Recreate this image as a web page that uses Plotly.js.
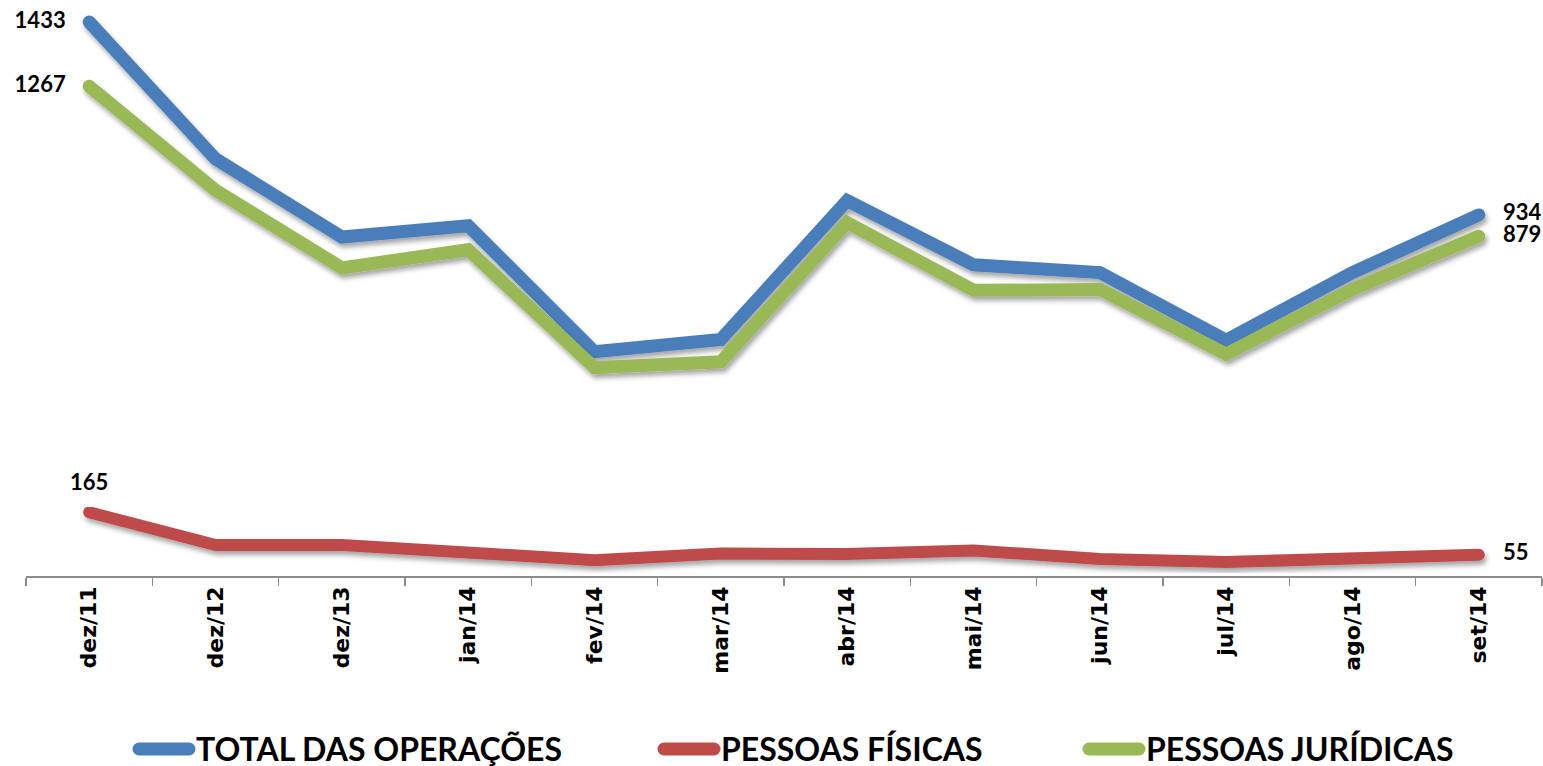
<!DOCTYPE html>
<html>
<head>
<meta charset="utf-8">
<script src="https://cdn.plot.ly/plotly-3.0.1.min.js"></script>
<style>
  html, body { margin: 0; padding: 0; background: #ffffff; }
  #chart { width: 1543px; height: 766px; }
</style>
</head>
<body>
<div id="chart"></div>
<script>
// ---- data ----
const categories = ['dez/11','dez/12','dez/13','jan/14','fev/14','mar/14','abr/14','mai/14','jun/14','jul/14','ago/14','set/14'];
const seriesNames = ['TOTAL DAS OPERAÇÕES', 'PESSOAS FÍSICAS', 'PESSOAS JURÍDICAS'];
const totalOperacoes   = [1433, 1079, 877, 906, 580, 612, 971, 805, 785, 610, 785, 934];
const pessoasFisicas   = [165, 80, 80, 62, 41, 58, 57, 66, 44, 36, 44, 55];
const pessoasJuridicas = [1267, 998, 797, 844, 539, 554, 914, 739, 741, 574, 741, 879];

// ---- styling ----
const colors = ['#4A7EBB', '#BE4B48', '#98B954'];
const W = 1543, H = 766;
const plotLeft = 26, plotRight = 1542, plotTop = 0, plotBottom = 576;
const xp = X => (X - plotLeft) / (plotRight - plotLeft);
const yp = Y => (plotBottom - Y) / (plotBottom - plotTop);

const last = categories.length - 1;
function endLabels(vals) {
  return vals.map((v, i) => (i === 0 || i === last) ? String(v) : '');
}
function sizes(vals, first, end) {
  return vals.map((v, i) => i === 0 ? first : (i === last ? end : 0));
}
const labelFont = { family: 'Lato, "Liberation Sans", sans-serif', size: 22, weight: 'bold', color: '#000000' };

const traces = [
  {
    x: categories, y: totalOperacoes, name: seriesNames[0], type: 'scatter', mode: 'lines+markers+text',
    line: { color: colors[0], width: 13 },
    marker: { size: sizes(totalOperacoes, 36, 37), opacity: 0, color: colors[0] },
    text: endLabels(totalOperacoes),
    textposition: totalOperacoes.map((v, i) => i === 0 ? 'middle left' : 'middle right'),
    textfont: labelFont, cliponaxis: false, hoverinfo: 'x+y+name'
  },
  {
    x: categories, y: pessoasFisicas, name: seriesNames[1], type: 'scatter', mode: 'lines+markers+text',
    line: { color: colors[1], width: 12 },
    marker: { size: sizes(pessoasFisicas, 25, 37), opacity: 0, color: colors[1] },
    text: endLabels(pessoasFisicas),
    textposition: pessoasFisicas.map((v, i) => i === 0 ? 'top center' : 'middle right'),
    textfont: labelFont, cliponaxis: false, hoverinfo: 'x+y+name'
  },
  {
    x: categories, y: pessoasJuridicas, name: seriesNames[2], type: 'scatter', mode: 'lines+markers+text',
    line: { color: colors[2], width: 13 },
    marker: { size: sizes(pessoasJuridicas, 36, 37), opacity: 0, color: colors[2] },
    text: endLabels(pessoasJuridicas),
    textposition: pessoasJuridicas.map((v, i) => i === 0 ? 'middle left' : 'middle right'),
    textfont: labelFont, cliponaxis: false, hoverinfo: 'x+y+name'
  }
];

// manual legend (line symbol + text)
const legendY = 748;
const legendItems = [
  { lineX0: 139, lineX1: 189, textX: 195 },
  { lineX0: 664, lineX1: 714, textX: 720 },
  { lineX0: 1089, lineX1: 1139, textX: 1145 }
];
const shapes = legendItems.map((it, i) => ({
  type: 'line', xref: 'paper', yref: 'paper',
  x0: xp(it.lineX0), x1: xp(it.lineX1), y0: yp(legendY + 1), y1: yp(legendY + 1),
  line: { color: colors[i], width: 13 }
}));
const annotations = legendItems.map((it, i) => ({
  xref: 'paper', yref: 'paper', x: xp(it.textX), y: yp(legendY),
  xanchor: 'left', yanchor: 'middle', showarrow: false, borderpad: 0,
  text: seriesNames[i],
  font: { family: 'Lato, "Liberation Sans", sans-serif', size: 32, weight: 'bold', color: '#000000' }
}));

const layout = {
  width: W, height: H,
  margin: { l: plotLeft, r: W - plotRight, t: plotTop, b: H - plotBottom, pad: 0 },
  paper_bgcolor: '#ffffff', plot_bgcolor: '#ffffff',
  showlegend: false,
  xaxis: {
    type: 'category', range: [-0.5, categories.length - 0.5],
    tickson: 'boundaries', ticks: 'outside', ticklen: 8, tickwidth: 1.3, tickcolor: '#8C8C8C',
    showline: true, linecolor: '#8C8C8C', linewidth: 1.6,
    showgrid: false, zeroline: false,
    tickangle: -90,
    tickfont: { family: '"DejaVu Sans", sans-serif', size: 22, weight: 'bold', color: '#000000' },
    fixedrange: true
  },
  yaxis: {
    range: [0, 1490], visible: false, showgrid: false, zeroline: false, fixedrange: true
  },
  shapes: shapes,
  annotations: annotations
};

Plotly.newPlot('chart', traces, layout, { displayModeBar: false, staticPlot: true }).then(gd => {
  const NS = 'http://www.w3.org/2000/svg';
  const defs = gd.querySelector('defs');
  if (defs) {
    const f = document.createElementNS(NS, 'filter');
    f.setAttribute('id', 'lineShadow');
    f.setAttribute('x', '-10%'); f.setAttribute('y', '-10%');
    f.setAttribute('width', '120%'); f.setAttribute('height', '130%');
    const ds = document.createElementNS(NS, 'feDropShadow');
    ds.setAttribute('dx', '2'); ds.setAttribute('dy', '4');
    ds.setAttribute('stdDeviation', '2.5');
    ds.setAttribute('flood-color', '#000000');
    ds.setAttribute('flood-opacity', '0.35');
    f.appendChild(ds);
    defs.appendChild(f);
  }
  gd.querySelectorAll('.scatterlayer path.js-line').forEach(p => {
    p.style.strokeLinecap = 'round';
    p.setAttribute('filter', 'url(#lineShadow)');
  });
  gd.querySelectorAll('.shapelayer path').forEach(p => {
    p.style.strokeLinecap = 'round';
  });
});
</script>
</body>
</html>
